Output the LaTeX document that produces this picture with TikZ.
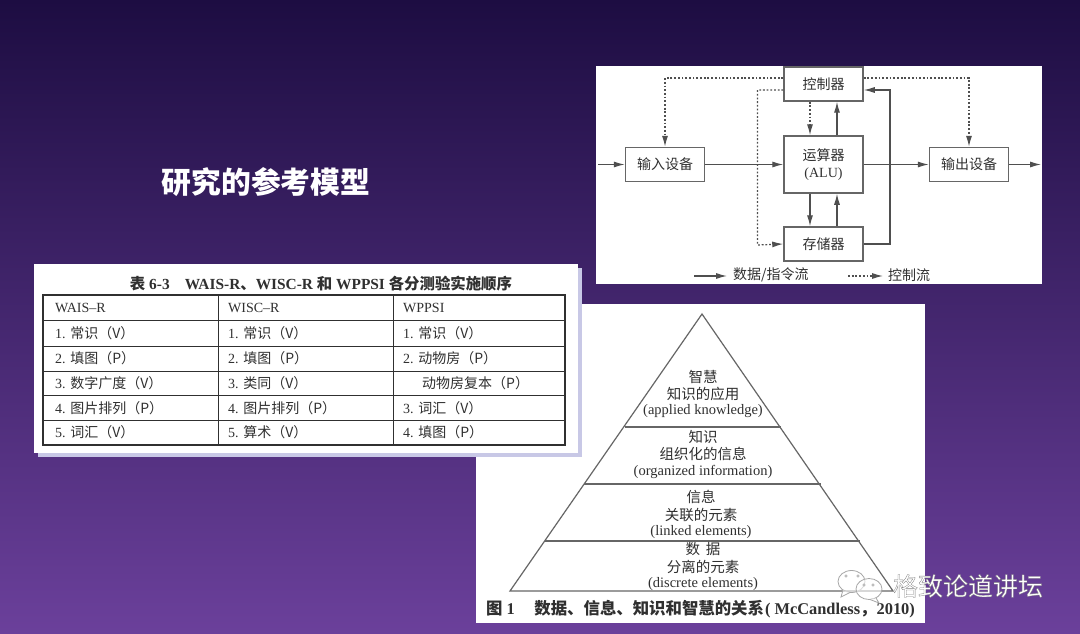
\documentclass[tikz,border=0pt]{standalone}
\usepackage{fontspec}
\setmainfont{Liberation Serif}
\newfontfamily\cjk{Noto Sans CJK SC}
\newcommand{\zh}[1]{{\cjk #1}}
\usetikzlibrary{arrows.meta}
\definecolor{ink}{HTML}{303030}
\definecolor{boxline}{HTML}{666666}
\tikzset{
  flowbox/.style={draw=boxline,line width=1.5pt,fill=white,inner sep=0pt,minimum width=79pt,text=ink,font=\fontsize{14}{17}\selectfont,align=center},
  flow/.style={draw=ink!85,line width=1.1pt,-{Latex[length=11pt,width=6pt]}},
  ctrlflow/.style={draw=ink!85,line width=1.2pt,dash pattern=on 1.8pt off 1.9pt,-{Latex[length=11pt,width=6pt,sep=0pt]}},
  legendtxt/.style={text=ink,font=\fontsize{14}{17}\selectfont,anchor=west,inner sep=0pt},
  panel/.style={fill=white,draw=none},
  cell/.style={anchor=west,inner sep=0pt,text=ink,font=\fontsize{14}{16}\selectfont},
  pyr/.style={anchor=center,inner sep=0pt,text=ink,font=\fontsize{14.5}{16}\selectfont},
  pyrline/.style={draw=boxline,line width=1.2pt},
  grid/.style={draw=ink,line width=1pt},
  wechat/.style={draw=gray!70,line width=0.8pt,fill=white,fill opacity=0.6},
}
\begin{document}
\begin{tikzpicture}[x=1pt,y=-1pt]
\useasboundingbox (0,0) rectangle (1080,634);
\shade[top color={rgb,255:red,29;green,13;blue,66},middle color={rgb,255:red,61;green,32;blue,110},bottom color={rgb,255:red,107;green,64;blue,155}] (0,0) rectangle (1080,634);

\node[anchor=center,inner sep=0pt,text=white,font=\cjk\bfseries\fontsize{29.8}{32}\selectfont] (title) at (266,182) {研究的参考模型};

% ---- flow chart panel
\fill[panel] (596,66) rectangle (1042,284);
\node[flowbox,minimum height=34pt] (ctrl) at (823.5,84) {\zh{控制器}};
\node[flowbox,minimum height=34pt] (inp) at (665,164.5) {\zh{输入设备}};
\node[flowbox,minimum height=57pt] (alu) at (823.5,164.5) {\zh{运算器}\\(ALU)};
\node[flowbox,minimum height=34pt] (mem) at (823.5,244) {\zh{存储器}};
\node[flowbox,minimum height=34pt] (outp) at (969,164.5) {\zh{输出设备}};
\coordinate (infree) at (598,164.5);
\coordinate (outfree) at (1041,164.5);
\draw[flow] (infree) -- (inp);
\draw[flow] (inp) -- (alu);
\draw[flow] (alu) -- (outp);
\draw[flow] (outp) -- (outfree);
\draw[flow] ([xshift=13.5pt]alu.north) -- ([xshift=13.5pt]ctrl.south);
\draw[flow] ([xshift=-13.5pt]alu.south) -- ([xshift=-13.5pt]mem.north);
\draw[flow] ([xshift=13.5pt]mem.north) -- ([xshift=13.5pt]alu.south);
\draw[flow] (mem.east) -| (890,90) -- ([yshift=-6pt]ctrl.east);
\draw[ctrlflow] ([xshift=-13.5pt]ctrl.south) -- ([xshift=-13.5pt]alu.north);
\draw[ctrlflow] ([yshift=6pt]ctrl.west) -| (inp.north);
\draw[ctrlflow] ([yshift=6pt]ctrl.east) -| (outp.north);
\draw[ctrlflow] ([yshift=-6pt]ctrl.west) -| (757.5,245) -- (mem.west);
\coordinate (lg1a) at (694,276);
\coordinate (lg1b) at (727,276);
\coordinate (lg2a) at (848,276);
\coordinate (lg2b) at (883,276);
\draw[flow] (lg1a) -- (lg1b);
\draw[ctrlflow] (lg2a) -- (lg2b);
\node[legendtxt] (lg1) at (733,275) {\zh{数据/指令流}};
\node[legendtxt] (lg2) at (888,275) {\zh{控制流}};

% ---- pyramid panel
\fill[panel] (476,304) rectangle (925,623);
\coordinate (apex) at (702,314);
\coordinate (bl) at (510,591);
\coordinate (br) at (893,591);
\draw[pyrline,line join=miter] (bl) -- (apex) -- (br) -- cycle;
\draw[pyrline] (625,427) -- (781,427);
\draw[pyrline] (584,484) -- (821,484);
\draw[pyrline] (545,541) -- (860,541);
\node[pyr] (p1) at (703,377) {\zh{智慧}};
\node[pyr] (p2) at (703,394) {\zh{知识的应用}};
\node[pyr] (p3) at (703,411) {(applied knowledge)};
\node[pyr] (p4) at (703,437) {\zh{知识}};
\node[pyr] (p5) at (703,454) {\zh{组织化的信息}};
\node[pyr] (p6) at (703,472) {(organized information)};
\node[pyr] (p7) at (701,497) {\zh{信息}};
\node[pyr] (p8) at (701,515) {\zh{关联的元素}};
\node[pyr] (p9) at (701,532) {(linked elements)};
\node[pyr] (p10) at (703,549) {\zh{数\hspace{6pt}据}};
\node[pyr] (p11) at (703,567) {\zh{分离的元素}};
\node[pyr] (p12) at (703,584) {(discrete elements)};
\node[anchor=west,inner sep=0pt,text=ink,font=\bfseries\fontsize{16.4}{18}\selectfont] (cap) at (486,609)
  {\zh{图} 1\hspace{19.5pt}\zh{数据、信息、知识和智慧的关系}\hspace{1pt}( McCandless\zh{，}2010)};

% ---- table panel
\fill[fill={rgb,255:red,200;green,200;blue,230}] (38,268) rectangle (582,457);
\fill[panel] (34,264) rectangle (578,453);
\node[anchor=center,inner sep=0pt,text=ink,font=\bfseries\fontsize{15.4}{17}\selectfont] (tt) at (321,284)
  {\zh{表} 6-3\hspace{15pt}WAIS-R\zh{、}WISC-R \zh{和} WPPSI \zh{各分测验实施顺序}};
\draw[grid,line width=1.3pt] (43,295) rectangle (565,445);
\foreach \yy in {320.5,346,371,395.5,420} \draw[grid,line width=0.8pt] (43,\yy) -- (565,\yy);
\foreach \xx in {218,393} \draw[grid,line width=0.8pt] (\xx,295) -- (\xx,445);
\node[cell] (a0) at (55,308) {WAIS–R};
\node[cell] (b0) at (228,308) {WISC–R};
\node[cell] (c0) at (403,308) {WPPSI};
\node[cell] (a1) at (55,333.5) {1. \zh{常识（V）}};
\node[cell] (b1) at (228,333.5) {1. \zh{常识（V）}};
\node[cell] (c1) at (403,333.5) {1. \zh{常识（V）}};
\node[cell] (a2) at (55,358.5) {2. \zh{填图（P）}};
\node[cell] (b2) at (228,358.5) {2. \zh{填图（P）}};
\node[cell] (c2) at (403,358.5) {2. \zh{动物房（P）}};
\node[cell] (a3) at (55,383) {3. \zh{数字广度（V）}};
\node[cell] (b3) at (228,383) {3. \zh{类同（V）}};
\node[cell] (c3) at (422,383) {\zh{动物房复本（P）}};
\node[cell] (a4) at (55,408) {4. \zh{图片排列（P）}};
\node[cell] (b4) at (228,408) {4. \zh{图片排列（P）}};
\node[cell] (c4) at (403,408) {3. \zh{词汇（V）}};
\node[cell] (a5) at (55,432.5) {5. \zh{词汇（V）}};
\node[cell] (b5) at (228,432.5) {5. \zh{算术（V）}};
\node[cell] (c5) at (403,432.5) {4. \zh{填图（P）}};

% ---- watermark
\draw[wechat] (851.5,581.5) ellipse (13.5pt and 11pt);
\draw[wechat] (843,590) -- (841,597) -- (850,592.5);
\draw[wechat] (869,589) ellipse (13pt and 10.5pt);
\draw[wechat] (876,598) -- (879,603) -- (870,599.5);
\foreach \ex/\ey in {846/576,858/576,864/585,873/585}
  \draw[gray!70,line width=0.6pt,fill=white] (\ex,\ey) circle (1.3pt);
\node[anchor=center,inner sep=0pt,text=white,font=\cjk\fontsize{25}{27}\selectfont] (wm) at (968,586)
  {\special{pdf:code 2 Tr 0.3 w 0.5 G}格致论道讲坛\special{pdf:code 0 Tr}};
\end{tikzpicture}
\end{document}
